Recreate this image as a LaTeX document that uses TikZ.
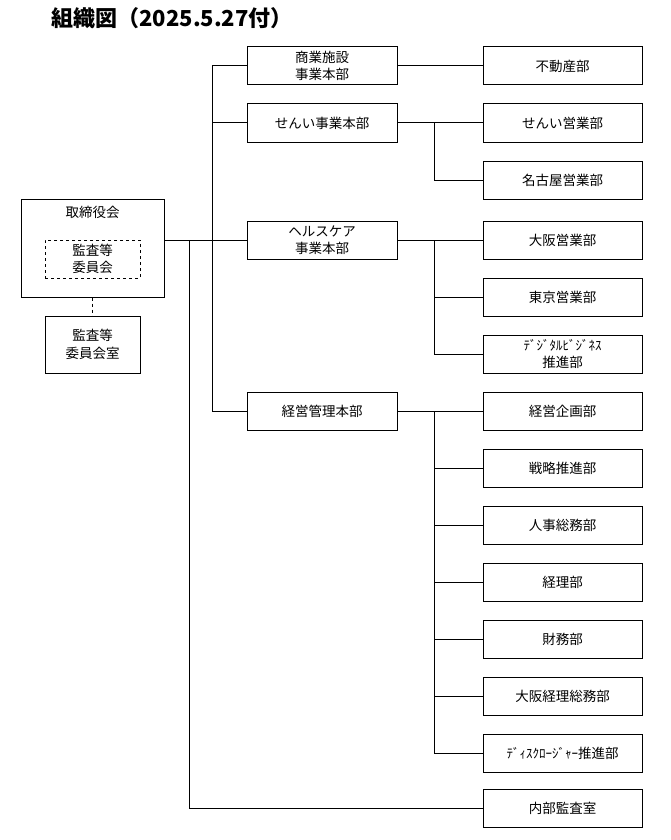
\documentclass[tikz,border=0pt]{standalone}
\usepackage{fontspec}
\setmainfont{Noto Sans CJK JP}
\begin{document}
\begin{tikzpicture}[x=1pt,y=-1pt,
  every node/.style={font=\fontsize{13.5}{17.5}\selectfont},
  hq/.style={draw, line width=1pt, minimum width=150pt, minimum height=38pt, inner sep=0pt, align=center},
  dept/.style={draw, line width=1pt, minimum width=159pt, minimum height=38pt, inner sep=0pt, align=center},
  conn/.style={line width=1pt},
  hw/.style={font=\fontsize{13}{16}\selectfont}]
\useasboundingbox (0,0) rectangle (670,840);
% title
\node[anchor=west, font=\fontsize{22}{24}\selectfont\bfseries] (title) at (48,18) {組織図（2025.5.27付）};
% board
\node[draw, line width=1pt, minimum width=143pt, minimum height=98pt, inner sep=0pt] (tori) at (92.5,248) {};
\node (torilabel) at (92.5,212) {取締役会};
\node[draw, dashed, line width=0.8pt, minimum width=95pt, minimum height=38pt, inner sep=0pt, align=center] (kansainner) at (92.5,259) {監査等\\委員会};
\node[draw, line width=1pt, minimum width=95pt, minimum height=57pt, inner sep=0pt, align=center] (kansashitsu) at (92.5,344.5) {監査等\\委員会室};
% HQs
\node[hq] (shogyo) at (322,66) {商業施設\\事業本部};
\node[hq] (senni) at (322,123) {せんい事業本部};
\node[hq] (hc) at (322,240) {ヘルスケア\\事業本部};
\node[hq] (keiei) at (322,411) {経営管理本部};
% depts
\node[dept] (fudosan) at (562.5,66) {不動産部};
\node[dept] (senniei) at (562.5,123) {せんい営業部};
\node[dept] (nagoya) at (562.5,180) {名古屋営業部};
\node[dept] (osaka) at (562.5,240) {大阪営業部};
\node[dept] (tokyo) at (562.5,297) {東京営業部};
\node[dept] (digital) at (562.5,354) {{\fontsize{13}{16}\selectfont ﾃﾞｼﾞﾀﾙﾋﾞｼﾞﾈｽ}\\推進部};
\node[dept] (kikaku) at (562.5,411) {経営企画部};
\node[dept] (senryaku) at (562.5,468) {戦略推進部};
\node[dept] (jinji) at (562.5,525) {人事総務部};
\node[dept] (keiri) at (562.5,582) {経理部};
\node[dept] (zaimu) at (562.5,639) {財務部};
\node[dept] (osakakeiri) at (562.5,696) {大阪経理総務部};
\node[dept] (disclo) at (562.5,753) {{\fontsize{13}{16}\selectfont ﾃﾞｨｽｸﾛｰｼﾞｬｰ}推進部};
\node[dept] (naibu) at (562.5,808) {内部監査室};
% connectors
\coordinate (a1) at (212,66);
\coordinate (a2) at (212,411);
\coordinate (b1) at (189,240);
\draw[conn] (tori.east |- hc.west) -- (hc.west);
\draw[conn] (shogyo.west) -- (a1) -- (a2) -- (keiei.west);
\draw[conn] (senni.west) -- (a1 |- senni.west);
\draw[conn] (b1) |- (naibu.west);
\draw[conn, dashed, line width=0.8pt] (tori.south) -- (kansashitsu.north);
\draw[conn] (shogyo.east) -- (fudosan.west);
\coordinate (c1) at (434,123);
\draw[conn] (senni.east) -- (senniei.west);
\draw[conn] (c1) |- (nagoya.west);
\coordinate (c2) at (434,240);
\draw[conn] (hc.east) -- (osaka.west);
\draw[conn] (c2) |- (tokyo.west);
\draw[conn] (c2) |- (digital.west);
\coordinate (c3) at (434,411);
\draw[conn] (keiei.east) -- (kikaku.west);
\foreach \n in {senryaku,jinji,keiri,zaimu,osakakeiri,disclo}
  \draw[conn] (c3) |- (\n.west);
\end{tikzpicture}
\end{document}
